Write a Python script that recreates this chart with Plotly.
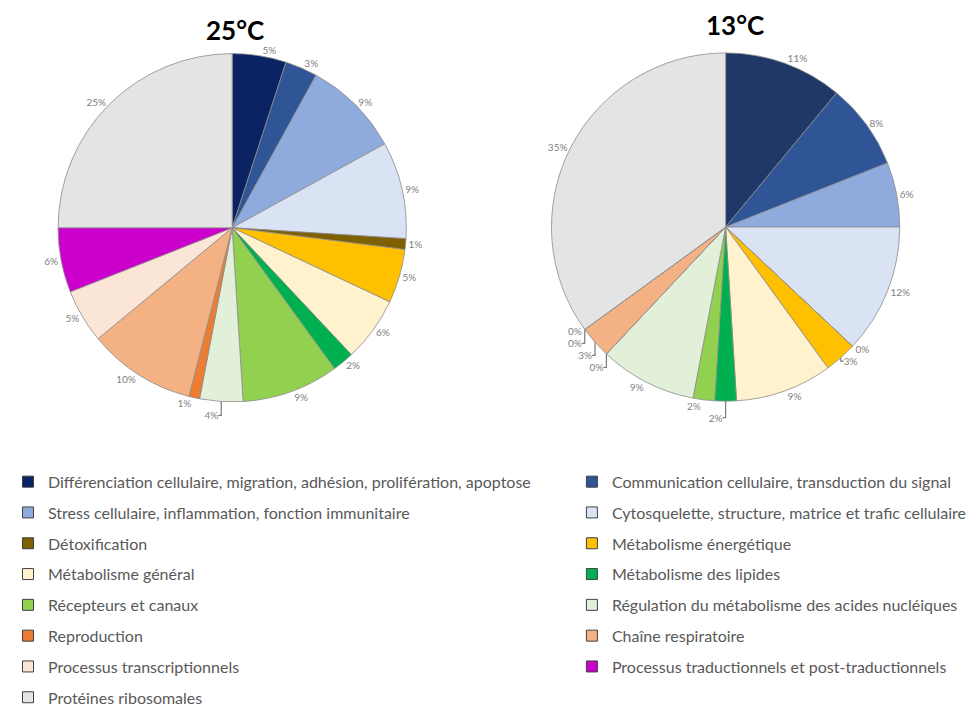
import plotly.graph_objects as go

categories = [
    "Différenciation cellulaire, migration, adhésion, prolifération, apoptose",
    "Communication cellulaire, transduction du signal",
    "Stress cellulaire, inflammation, fonction immunitaire",
    "Cytosquelette, structure, matrice et trafic cellulaire",
    "Détoxification",
    "Métabolisme énergétique",
    "Métabolisme général",
    "Métabolisme des lipides",
    "Récepteurs et canaux",
    "Régulation du métabolisme des acides nucléiques",
    "Reproduction",
    "Chaîne respiratoire",
    "Processus transcriptionnels",
    "Processus traductionnels et post-traductionnels",
    "Protéines ribosomales",
]
values_25 = [5, 3, 9, 9, 1, 5, 6, 2, 9, 4, 1, 10, 5, 6, 25]
values_13 = [11, 8, 6, 12, 0, 3, 9, 2, 2, 9, 0, 3, 0, 0, 35]
titles = ["25°C", "13°C"]

colors = ["#0B2263", "#2F5597", "#8FAADC", "#DAE3F3", "#7F6000", "#FFC000",
          "#FFF2CC", "#00B050", "#92D050", "#E2F0D9", "#ED7D31", "#F4B183",
          "#FBE5D6", "#CC00CC", "#E4E4E4"]
colors_13 = ["#1F3868"] + colors[1:]

label_font = dict(family="Lato, Noto Sans, sans-serif", size=10, color="#7F7F7F")
line = dict(color="#8C8C8C", width=0.8)

fig = go.Figure()
for vals, cols, dom in [
    (values_25, colors, dict(x=[0.047, 0.411], y=[0.430, 0.934])),
    (values_13, colors_13, dict(x=[0.551, 0.915], y=[0.431, 0.935])),
]:
    fig.add_trace(go.Pie(
        labels=categories, values=vals, text=[f"{v}%" for v in vals],
        textinfo="text", textposition="outside", textfont=label_font,
        marker=dict(colors=cols, line=line), sort=False, direction="clockwise",
        rotation=0, showlegend=False, domain=dom, hoverinfo="label+value",
    ))

# legend entries (two columns)
for i, (cat, col) in enumerate(zip(categories, colors)):
    fig.add_trace(go.Scatter(
        x=[None], y=[None], mode="markers", name=cat,
        marker=dict(symbol="square", size=11, color=col,
                    line=dict(color="#404040", width=1)),
        legend="legend" if i % 2 == 0 else "legend2",
        legendgroup=f"g{i}", showlegend=True,
    ))

legend_common = dict(
    orientation="v", font=dict(family="Lato, Noto Sans, sans-serif", size=16, color="#595959"),
    bgcolor="rgba(0,0,0,0)", tracegroupgap=7, itemwidth=30,
    xref="paper", yref="paper", yanchor="top", xanchor="left",
)
fig.update_layout(
    legend=dict(x=0.0, y=0.339, **legend_common),
    legend2=dict(x=0.576, y=0.339, **legend_common),
)

title_font = dict(family="Lato, Open Sans, sans-serif", size=26, color="black")
fig.update_layout(
    width=979, height=707,
    margin=dict(l=0, r=0, t=0, b=0),
    paper_bgcolor="white", plot_bgcolor="white",
    xaxis=dict(visible=False), yaxis=dict(visible=False),
    annotations=[
        dict(text=f"<b>{titles[0]}</b>", x=0.232, y=0.968, xref="paper", yref="paper",
             xanchor="center", yanchor="middle", showarrow=False, font=title_font),
        dict(text=f"<b>{titles[1]}</b>", x=0.743, y=0.975, xref="paper", yref="paper",
             xanchor="center", yanchor="middle", showarrow=False, font=title_font),
    ],
)

fig.write_html("out.html")
